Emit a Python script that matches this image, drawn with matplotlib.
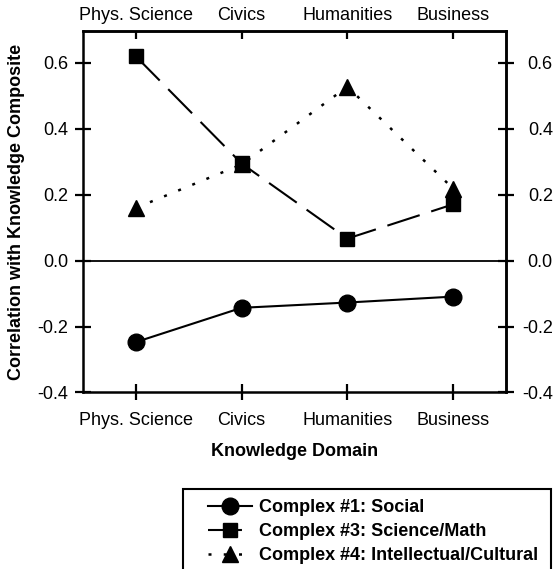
import matplotlib
matplotlib.use('Agg')
import matplotlib.pyplot as plt
from matplotlib.patches import Rectangle

plt.rcParams['font.family'] = ['Liberation Sans', 'DejaVu Sans']

domains = ['Phys. Science', 'Civics', 'Humanities', 'Business']
social = [-0.247, -0.143, -0.127, -0.109]
science_math = [0.620, 0.295, 0.067, 0.171]
intellectual = [0.160, 0.292, 0.528, 0.219]
yticks = [-0.4, -0.2, 0.0, 0.2, 0.4, 0.6]
fs = 13

fig = plt.figure(figsize=(5.54, 5.69), dpi=100)
ax = fig.add_axes([0.1498, 0.3102, 0.7635, 0.6353])

x = list(range(len(domains)))
ax.axhline(0, color='black', lw=1.3, zorder=1)
ax.plot(x, social, color='black', lw=1.5, marker='o', ms=12,
        label='Complex #1: Social')
ax.plot(x, science_math, color='black', lw=1.5, marker='s', ms=10,
        dashes=(16.3, 5.8), label='Complex #3: Science/Math')
ax.plot(x, intellectual, color='black', lw=1.8, marker='^', ms=12,
        dashes=(1.2, 4.9), label='Complex #4: Intellectual/Cultural')

ax.set_xlim(-0.5, 3.5)
ax.set_ylim(-0.4, 0.697)
ax.set_xticks(x)
ax.set_xticklabels(domains)
ax.set_yticks(yticks)
ax.set_yticklabels(['%.1f' % v for v in yticks])
ax.tick_params(axis='x', direction='inout', length=11.5, width=1.6,
               labelsize=fs, pad=8.5)
ax.tick_params(axis='y', direction='inout', length=11.5, width=1.6,
               labelsize=fs, pad=5)

# top and right axes carry their own labels
top = ax.secondary_xaxis('top')
top.set_xticks(x)
top.set_xticklabels(domains)
top.tick_params(direction='in', length=5.8, width=1.6, labelsize=fs, pad=5.4)
right = ax.secondary_yaxis('right')
right.set_yticks(yticks)
right.set_yticklabels(['%.1f' % v for v in yticks], ha='right')
right.tick_params(direction='inout', length=11.5, width=1.6, labelsize=fs,
                  pad=28)

for a in (ax, top, right):
    for s in a.spines.values():
        s.set_linewidth(1.8)

ax.set_xlabel('Knowledge Domain', fontsize=fs, fontweight='bold')
ax.xaxis.set_label_coords(0.5, -0.14)
ax.set_ylabel('Correlation with Knowledge Composite', fontsize=fs,
              fontweight='bold')
ax.yaxis.set_label_coords(-0.137, 0.5)

leg = fig.legend(loc='upper left', bbox_to_anchor=(208 / 554, 1 - 499 / 569),
                 frameon=False, prop={'weight': 'bold', 'size': fs},
                 handlelength=2.44, handletextpad=0.39, borderpad=0,
                 borderaxespad=0, labelspacing=0.4)
fig.patches.append(Rectangle((183 / 554, -0.05), (551 - 183) / 554,
                             0.05 + 1 - 489 / 569, transform=fig.transFigure,
                             fill=False, edgecolor='black', lw=1.5))

fig.savefig('out.png', dpi=100)
